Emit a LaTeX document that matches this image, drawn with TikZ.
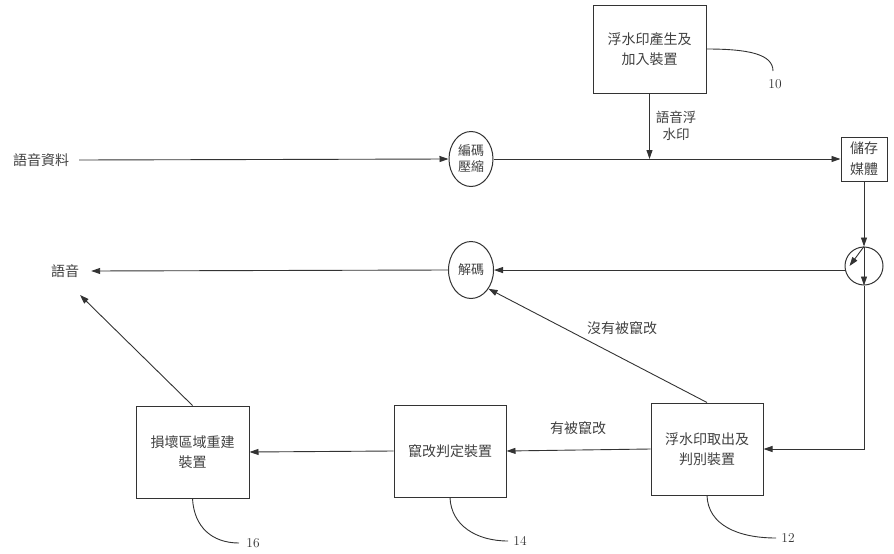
\documentclass[tikz,border=0pt]{standalone}
\usepackage{fontspec}
\newfontfamily\cjk{Noto Sans CJK TC}
\usetikzlibrary{arrows.meta,shapes.geometric}
\begin{document}
\begin{tikzpicture}[x=1pt,y=-1pt,
  ln/.style={draw=black!80, line width=0.9pt},
  arr/.style={ln, -{Triangle[length=9pt,width=6pt]}},
  txt/.style={text=black!75, font=\cjk\fontsize{14}{19.5}\selectfont, align=center, inner sep=0pt},
  box/.style={txt, draw=black!80, line width=1pt},
  ell/.style={txt, ellipse, draw=black!80, line width=1pt, font=\cjk\fontsize{13}{16}\selectfont},
  num/.style={text=black!80, font=\fontsize{13.5}{13.5}\selectfont, inner sep=0pt}]
\useasboundingbox (0,0) rectangle (894,554);
% nodes
\node[box, minimum width=113pt, minimum height=88pt] (b10) at (649.5,49) {浮水印產生及\\加入裝置};
\node[txt] (src) at (41,160) {語音資料};
\node[ell, minimum width=44pt, minimum height=55pt] (enc) at (471,159) {編碼\\壓縮};
\node[box, minimum width=46pt, minimum height=44pt, font=\cjk\fontsize{14}{21}\selectfont] (st) at (864,159) {儲存\\媒體};
\node[ell, minimum width=45pt, minimum height=57pt] (dec) at (471,270) {解碼};
\node[circle, draw=black!80, line width=1pt, minimum size=38pt, inner sep=0pt] (sw) at (864,266) {};
\node[txt] (out) at (65,271) {語音};
\node[box, minimum width=112pt, minimum height=92pt] (b12) at (707,449) {浮水印取出及\\判別裝置};
\node[box, minimum width=112pt, minimum height=92pt] (b14) at (450,451) {竄改判定裝置};
\node[box, minimum width=113pt, minimum height=92pt] (b16) at (192.5,452) {損壞區域重建\\裝置};
% labels
\node[txt, font=\cjk\fontsize{13.5}{17}\selectfont] (lwm) at (676,126) {語音浮\\水印};
\node[txt] (lno) at (622,328) {沒有被竄改};
\node[txt] (lyes) at (578,428) {有被竄改};
\node[num] (n10) at (775,84) {10};
\node[num] (n12) at (788,538) {12};
\node[num] (n14) at (520,541) {14};
\node[num] (n16) at (253,543) {16};
% coordinates
\coordinate (j) at (649.5,159);
\coordinate (outtip) at (80,295);
% connectors
\draw[arr] ([xshift=10pt]src.east) -- (enc.west);
\draw[arr] (enc.east) -- (st.west);
\draw[arr] (b10.south) -- (j);
\draw[arr] (st.south) -- (sw.north);
\draw[arr] (sw.north) -- (sw.south);
\draw[arr] (sw.north) -- ([xshift=5pt]sw.west);
\draw[arr] (sw.south) |- (b12.east);
\draw[arr] (sw.192) -- (sw.192 -| dec.east);
\draw[arr] (dec.west) -- ([xshift=12pt]out.east);
\draw[arr] (b12.north) -- (dec.-47);
\draw[arr] (b12.west) -- (b14.east);
\draw[arr] (b14.west) -- (b16.east);
\draw[arr] (b16.north) -- (outtip);
% leader curves
\draw[ln] (b10.east) .. controls (748,49) and (773,54) .. (773,71);
\draw[ln] (b12.south) .. controls (708,525) and (738,538) .. (776,538);
\draw[ln] (b14.south) .. controls (451,525) and (476,541) .. (508,541);
\draw[ln] (b16.south) .. controls (194,527) and (212,543) .. (239,543);
\end{tikzpicture}
\end{document}
